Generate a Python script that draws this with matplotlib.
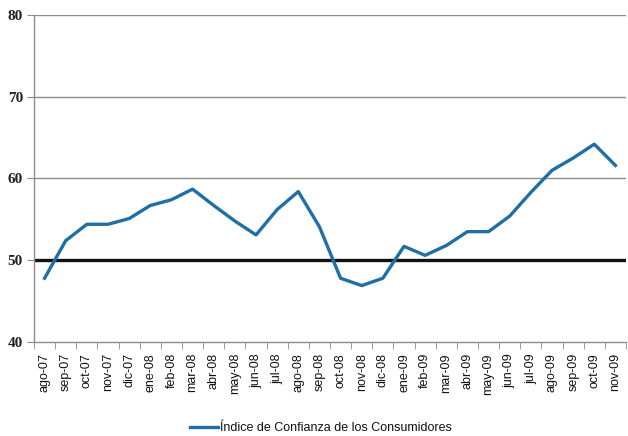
import matplotlib
matplotlib.use("Agg")
import matplotlib.pyplot as plt
import numpy as np

months = ["ago-07", "sep-07", "oct-07", "nov-07", "dic-07", "ene-08", "feb-08", "mar-08",
          "abr-08", "may-08", "jun-08", "jul-08", "ago-08", "sep-08", "oct-08", "nov-08",
          "dic-08", "ene-09", "feb-09", "mar-09", "abr-09", "may-09", "jun-09", "jul-09",
          "ago-09", "sep-09", "oct-09", "nov-09"]
ici = [47.8, 52.4, 54.4, 54.4, 55.1, 56.7, 57.4, 58.7,
       56.7, 54.8, 53.1, 56.2, 58.4, 54.1, 47.8, 46.9,
       47.8, 51.7, 50.6, 51.8, 53.5, 53.5, 55.4, 58.3,
       61.0, 62.5, 64.2, 61.6]
series_name = "Índice de Confianza de los Consumidores"
yticks = [40, 50, 60, 70, 80]
threshold = 50

fig = plt.figure(figsize=(6.28, 4.36), dpi=100)
ax = fig.add_axes([34/628, 1-342/436, (626-34)/628, (342-15)/436])

n = len(months)
x = np.arange(n)
ax.set_xlim(-0.5, n - 0.5)
ax.set_ylim(40, 80)

for yv in yticks[1:]:
    ax.axhline(yv, color="#8c8c8c", lw=1.0, zorder=1)
ax.axhline(threshold, color="#111111", lw=2.4, zorder=2)

line, = ax.plot(x, ici, color="#1f6ea6", lw=2.4, zorder=3, label=series_name,
                solid_joinstyle="round")

ax.set_yticks(yticks)
ax.set_yticklabels([str(v) for v in yticks], fontfamily="Liberation Serif",
                   fontsize=11, fontweight="bold", color="#222222")
ax.set_xticks(x)
ax.set_xticklabels(months, rotation=90, fontfamily="Liberation Sans",
                   fontsize=9, color="#111111")
ax.set_xticks(np.arange(-0.5, n, 1), minor=True)
ax.tick_params(axis="x", which="major", length=0, pad=8)
ax.tick_params(axis="x", which="minor", length=5, color="#8c8c8c", direction="out")
ax.tick_params(axis="y", length=5, color="#8c8c8c", direction="out", pad=3)

for s in ["top", "right"]:
    ax.spines[s].set_visible(False)
for s in ["left", "bottom"]:
    ax.spines[s].set_color("#8c8c8c")
    ax.spines[s].set_linewidth(1.0)

leg = fig.legend(handles=[line], loc="center", bbox_to_anchor=(321/628, 1-428/436),
                 frameon=False, handlelength=2.2, handletextpad=0.2,
                 prop={"family": "Liberation Sans", "size": 9})
for t in leg.get_texts():
    t.set_color("#111111")

fig.savefig("out.png", dpi=100, facecolor="white")
